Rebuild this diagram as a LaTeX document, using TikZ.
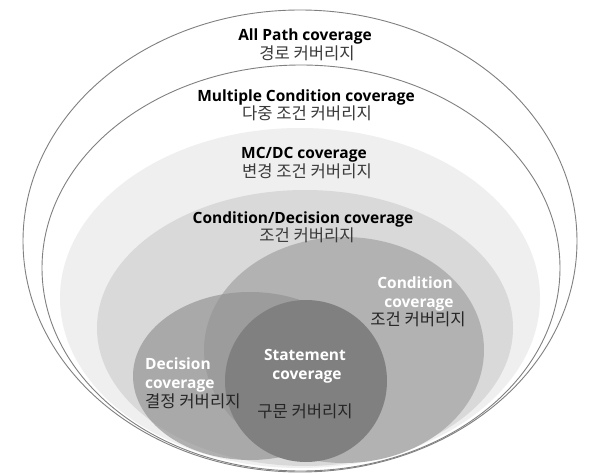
\documentclass[tikz,border=0pt]{standalone}
\usepackage{fontspec}
\newfontfamily\enfont{Open Sans}
\newfontfamily\krfont{Noto Sans CJK KR}
\definecolor{edgegray}{HTML}{808080}
\definecolor{mcdcfill}{HTML}{EFEFEF}
\definecolor{cdfill}{HTML}{D9D9D9}
\definecolor{condfill}{HTML}{B2B2B2}
\definecolor{decfill}{HTML}{919191}
\definecolor{stmtfill}{HTML}{808080}
\definecolor{krgray}{HTML}{3A3A3A}
\definecolor{krdark}{HTML}{262626}
\begin{document}
\begin{tikzpicture}[x=1pt,y=-1pt,
  en/.style={font=\enfont\bfseries\fontsize{15.5}{17}\selectfont, anchor=base, inner sep=0pt, text=black},
  enw/.style={en, text=white},
  kr/.style={font=\krfont\fontsize{16.6}{18}\selectfont, anchor=base, inner sep=0pt, text=krgray},
  krd/.style={kr, text=krdark},
  ring/.style={draw=edgegray, line width=0.9pt, fill=white}]
\useasboundingbox (0,0) rectangle (600,476);
\fill[white] (0,0) rectangle (600,476);
% outer ellipses
\draw[ring] (300,241) ellipse [x radius=277, y radius=231];
\draw[ring] (301,268) ellipse [x radius=259, y radius=203];
\fill[mcdcfill] (300,298) ellipse [x radius=240, y radius=170];
\fill[cdfill] (305,328) ellipse [x radius=208, y radius=138];
\fill[condfill] (344,350) ellipse [x radius=140, y radius=113];
\fill[decfill, fill opacity=0.667] (250,376) ellipse [x radius=117, y radius=84];
\fill[stmtfill] (306,381) circle [radius=81];
% labels
\node[en] (ap) at (305,41) {All Path coverage};
\node[kr] (apk) at (307,60) {경로 커버리지};
\node[en] (mc) at (306,102) {Multiple Condition coverage};
\node[kr] (mck) at (307,120) {다중 조건 커버리지};
\node[en] (md) at (304,159) {MC/DC coverage};
\node[kr] (mdk) at (307,178) {변경 조건 커버리지};
\node[en] (cd) at (303,223) {Condition/Decision coverage};
\node[kr] (cdk) at (307,241) {조건 커버리지};
\node[enw] (c1) at (415,288) {Condition};
\node[enw] (c2) at (419,307) {coverage};
\node[krd] (ck) at (418,325) {조건 커버리지};
\node[enw, anchor=base west] (d1) at (145,369) {Decision};
\node[enw, anchor=base west] (d2) at (145,388) {coverage};
\node[krd, anchor=base west] (dk) at (145,407) {결정 커버리지};
\node[enw] (s1) at (305,360) {Statement};
\node[enw] (s2) at (307,379) {coverage};
\node[krd] (sk) at (305,417) {구문 커버리지};
\end{tikzpicture}
\end{document}
